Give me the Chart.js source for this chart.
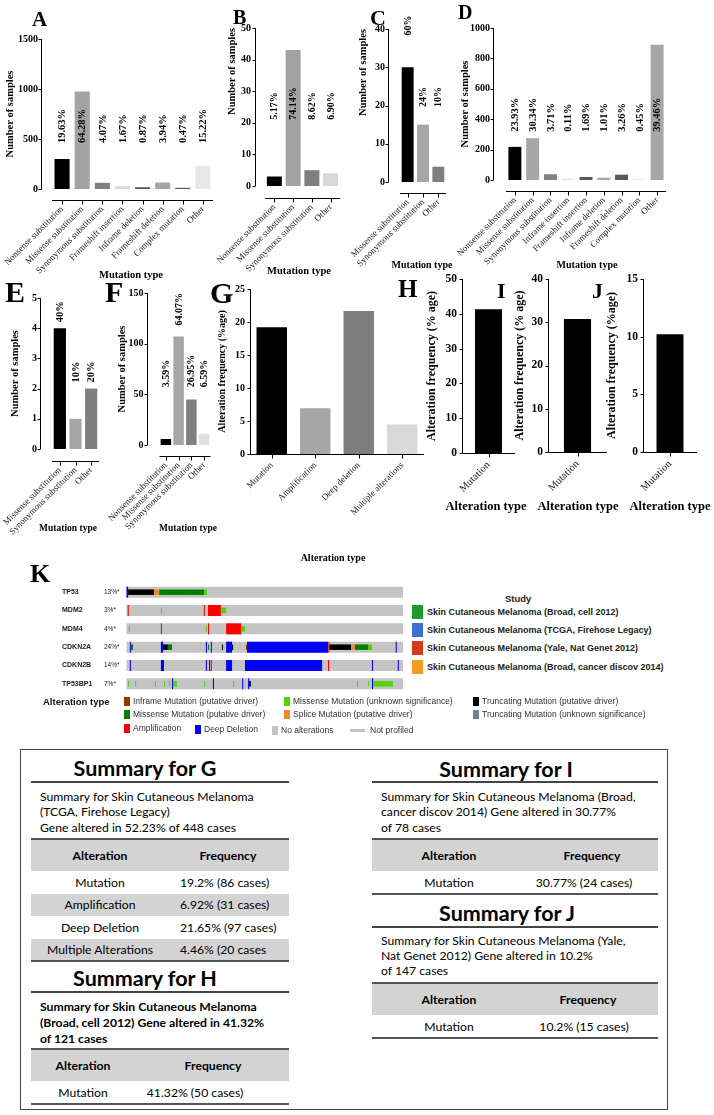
<!DOCTYPE html>
<html><head><meta charset="utf-8">
<script src="https://cdn.jsdelivr.net/npm/chart.js@4.4.1/dist/chart.umd.min.js"></script>
<style>
html,body{margin:0;padding:0;background:#fff;}
body{width:714px;height:1115px;position:relative;overflow:hidden;}
.t{position:absolute;white-space:nowrap;}
.r{position:absolute;}
</style></head><body>
<script>
// ---------------- DATA ----------------
const A_categories = ['Nonsense substitution','Missense substitution','Synonymous substitution','Frameshift insertion','Inframe deletion','Frameshift deletion','Complex mutation','Other'];
const A_values = [300, 975, 62, 28, 18, 65, 12, 232];
const A_percent = ['19.63%','64.28%','4.07%','1.67%','0.87%','3.94%','0.47%','15.22%'];
const A_ticks = [0, 500, 1000, 1500];

const B_categories = ['Nonsense substitution','Missense substitution','Synonymous substitution','Other'];
const B_values = [3, 43, 5, 4];
const B_percent = ['5.17%','74.14%','8.62%','6.90%'];
const B_ticks = [0, 10, 20, 30, 40, 50];

const C_categories = ['Missense substitution','Synonymous substitution','Other'];
const C_values = [30, 15, 4];
const C_percent = ['60%','24%','10%'];
const C_ticks = [0, 10, 20, 30, 40];

const D_categories = ['Nonsense substitution','Missense substitution','Synonymous substitution','Inframe insertion','Frameshift insertion','Inframe deletion','Frameshift deletion','Complex mutation','Other'];
const D_values = [218, 275, 38, 8, 20, 15, 35, 6, 890];
const D_percent = ['23.93%','30.34%','3.71%','0.11%','1.69%','1.01%','3.26%','0.45%','39.46%'];
const D_ticks = [0, 200, 400, 600, 800, 1000];

const E_categories = ['Missense substitution','Synonymous substitution','Other'];
const E_values = [4, 1, 2];
const E_percent = ['40%','10%','20%'];
const E_ticks = [0, 1, 2, 3, 4, 5];

const F_categories = ['Nonsense substitution','Missense substitution','Synonymous substitution','Other'];
const F_values = [6, 107, 45, 11];
const F_percent = ['3.59%','64.07%','26.95%','6.59%'];
const F_ticks = [0, 50, 100, 150];

const G_categories = ['Mutation','Amplification','Deep deletion','Multiple alterations'];
const G_values = [19.2, 6.92, 21.65, 4.46];
const G_ticks = [0, 5, 10, 15, 20, 25];

const H_categories = ['Mutation'];
const H_values = [41.32];
const H_ticks = [0, 10, 20, 30, 40, 50];

const I_categories = ['Mutation'];
const I_values = [30.77];
const I_ticks = [0, 10, 20, 30, 40];

const J_categories = ['Mutation'];
const J_values = [10.2];
const J_ticks = [0, 5, 10, 15];

// Oncoprint (K): sample index ranges [gene, start, end] out of K_total samples
const K_genes = ['TP53','MDM2','MDM4','CDKN2A','CDKN2B','TP53BP1'];
const K_genePct = ['13%*','3%*','4%*','24%*','14%*','7%*'];
const K_total = 794;
const K_amplification = [['MDM2',5,8],['MDM2',223,226],['MDM2',235,272],['MDM4',100,103],['MDM4',235,238],['MDM4',287,330],['CDKN2A',580,583],['CDKN2B',243,246],['CDKN2B',579,582]];
const K_deepDeletion = [['TP53',0,6],['CDKN2A',11,14],['CDKN2A',100,106],['CDKN2A',229,232],['CDKN2A',243,246],['CDKN2A',287,304],['CDKN2A',347,579],['CDKN2A',773,776],
  ['CDKN2B',11,14],['CDKN2B',100,109],['CDKN2B',229,232],['CDKN2B',238,241],['CDKN2B',287,304],['CDKN2B',341,562],['CDKN2B',705,708],['CDKN2B',779,782],
  ['TP53BP1',132,135],['TP53BP1',249,252],['TP53BP1',333,336],['TP53BP1',350,353],['TP53BP1',705,708]];
const K_truncDriver = [['TP53',6,80],['CDKN2A',106,120],['CDKN2A',275,278],['CDKN2A',304,307],['CDKN2A',583,645],['TP53BP1',353,358]];
const K_spliceDriver = [['TP53',80,95],['CDKN2A',645,656]];
const K_missenseDriver = [['TP53',95,224],['CDKN2A',14,20],['CDKN2A',120,132],['CDKN2A',235,238],['CDKN2A',656,694]];
const K_missenseUnknown = [['TP53',224,232],['MDM2',100,103],['MDM2',272,287],['MDM4',8,11],['MDM4',229,232],['MDM4',330,341],['CDKN2A',694,705],
  ['TP53BP1',6,9],['TP53BP1',26,29],['TP53BP1',83,86],['TP53BP1',109,112],['TP53BP1',123,126],['TP53BP1',135,146],['TP53BP1',224,227],['TP53BP1',307,310],['TP53BP1',662,665],['TP53BP1',694,697],['TP53BP1',708,765]];
const K_inframeDriver = [['CDKN2A',344,347]];

const K_studies = ['Skin Cutaneous Melanoma (Broad, cell 2012)','Skin Cutaneous Melanoma (TCGA, Firehose Legacy)','Skin Cutaneous Melanoma (Yale, Nat Genet 2012)','Skin Cutaneous Melanoma (Broad, cancer discov 2014)'];

const G_summaryRows = [['Mutation','19.2% (86 cases)'],['Amplification','6.92% (31 cases)'],['Deep Deletion','21.65% (97 cases)'],['Multiple Alterations','4.46% (20 cases']];
const H_summaryRows = [['Mutation','41.32% (50 cases)']];
const I_summaryRows = [['Mutation','30.77% (24 cases)']];
const J_summaryRows = [['Mutation','10.2% (15 cases)']];

// ---------------- HELPERS ----------------
const SERIF = "'Liberation Serif','Times New Roman',serif";
const SANS = "'Liberation Sans',Arial,sans-serif";
const CAL = "Lato,'Open Sans',sans-serif";

function T(text, x, cy, o) {
  o = o || {};
  const fs = o.fs || 10, lh = Math.round(fs * 1.4);
  const d = document.createElement('div');
  d.className = 't';
  d.textContent = text;
  d.style.left = x + 'px';
  d.style.top = (cy - lh / 2) + 'px';
  d.style.lineHeight = lh + 'px';
  d.style.fontSize = fs + 'px';
  d.style.fontFamily = o.ff || CAL;
  d.style.fontWeight = o.fw || 'normal';
  d.style.color = o.c || '#000';
  if (o.align === 'center') d.style.transform = 'translateX(-50%)';
  if (o.align === 'right') d.style.transform = 'translateX(-100%)';
  document.body.appendChild(d);
}
function R(x, y, w, h, c, border) {
  const d = document.createElement('div');
  d.className = 'r';
  d.style.left = x + 'px'; d.style.top = y + 'px';
  d.style.width = w + 'px'; d.style.height = h + 'px';
  if (c) d.style.background = c;
  if (border) { d.style.border = border; d.style.boxSizing = 'border-box'; }
  document.body.appendChild(d);
}

// Prism-style axes (offset axis lines), rotated percentage labels and the x-axis title
const prismPlugin = {
  id: 'prism',
  afterDatasetsDraw(chart, args, o) {
    const ctx = chart.ctx, ca = chart.chartArea, ys = chart.scales.y, xs = chart.scales.x;
    const yx = Math.round(ca.left - o.yGap) + 0.5;
    const y0 = ys.getPixelForValue(0), yTop = ys.getPixelForValue(ys.max);
    const xa = Math.round(y0 + o.xGap) + 0.5;
    ctx.save();
    ctx.strokeStyle = '#000'; ctx.lineWidth = 1;
    ctx.beginPath();
    ctx.moveTo(yx, yTop); ctx.lineTo(yx, o.xGap ? y0 : xa);
    ys.ticks.forEach(t => { const p = Math.round(ys.getPixelForValue(t.value)) + 0.5; ctx.moveTo(yx - o.tick, p); ctx.lineTo(yx, p); });
    ctx.moveTo(o.xGap ? ca.left : yx, xa); ctx.lineTo(ca.right, xa);
    xs.ticks.forEach((t, i) => { const p = Math.round(xs.getPixelForTick(i)) + 0.5; ctx.moveTo(p, xa); ctx.lineTo(p, xa + o.tick + 1); });
    ctx.stroke();
    if (o.labels) {
      const meta = chart.getDatasetMeta(0);
      ctx.font = o.font; ctx.fillStyle = '#000'; ctx.textAlign = 'left'; ctx.textBaseline = 'middle';
      meta.data.forEach((bar, i) => {
        const base = Array.isArray(o.base) ? o.base[i] : o.base;
        let yb = ys.getPixelForValue(base);
        if (o.gap != null) yb = Math.min(yb, bar.y - o.gap);
        ctx.save(); ctx.translate(bar.x + 0.5, yb); ctx.rotate(-Math.PI / 2); ctx.fillText(o.labels[i], 0, 0); ctx.restore();
      });
    }
    if (o.xTitle) {
      ctx.font = o.xTitle.font; ctx.fillStyle = '#000'; ctx.textAlign = 'center'; ctx.textBaseline = 'middle';
      ctx.fillText(o.xTitle.text, o.xTitle.x, o.xTitle.y);
    }
    ctx.restore();
  }
};

function makeBar(d, L) {
  const [al, ar, at, ab] = L.area;
  const big = !!L.big;
  const bl = Math.max(0, Math.round(al - 80));
  const bt = L.top, bh = L.bottom - L.top;
  const bw = Math.round(ar + 45 - bl);
  const yTitleFs = L.yTitleFs || (big ? 12 : 10.5);
  const xTitleFs = L.xTitleFs || (big ? 12.5 : 10.5);
  const cv = document.createElement('canvas');
  cv.width = bw; cv.height = bh;
  cv.style.cssText = `position:absolute;left:${bl}px;top:${bt}px;width:${bw}px;height:${bh}px;`;
  document.body.appendChild(cv);
  new Chart(cv, {
    type: 'bar',
    data: { labels: d.labels, datasets: [{ data: d.values, backgroundColor: d.colors, barPercentage: L.barPct, categoryPercentage: 1, borderWidth: 0 }] },
    options: {
      responsive: false, animation: false, devicePixelRatio: 1,
      events: [],
      layout: { autoPadding: false, padding: { left: 0, top: at - bt, right: bl + bw - ar, bottom: 0 } },
      plugins: {
        legend: { display: false }, tooltip: { enabled: false },
        prism: { yGap: L.yGap, xGap: L.xGap, tick: 3, labels: d.pct, base: L.pctBase, gap: L.pctGap, font: 'bold ' + (L.pctFs || 10) + 'px ' + SERIF,
                 xTitle: { text: d.xTitle, font: 'bold ' + xTitleFs + 'px ' + SERIF, x: L.xTitleAt[0] - bl, y: L.xTitleAt[1] - bt } }
      },
      scales: {
        x: {
          type: 'category', offset: true,
          grid: { display: false, drawTicks: false, tickLength: 0 }, border: { display: false },
          ticks: { autoSkip: false, minRotation: 45, maxRotation: 45, padding: L.xPad, color: '#222', font: { family: SERIF, size: L.xFs || (big ? 10.5 : 9) } },
          title: { display: false },
          afterFit: s => { s.height = bt + bh - ab; s.paddingLeft = 0; s.paddingRight = 0; }
        },
        y: {
          type: 'linear', min: 0, max: d.ticks[d.ticks.length - 1],
          grid: { display: false, drawTicks: false, tickLength: 0 }, border: { display: false },
          afterBuildTicks: s => { s.ticks = d.ticks.map(v => ({ value: v })); },
          ticks: { padding: L.yPad, color: '#000', font: { family: SERIF, size: big ? 11.5 : 10, weight: 'bold' }, callback: v => String(v) },
          title: { display: true, text: d.yTitle, color: '#000', padding: { top: L.yTitleX - bl - yTitleFs * 0.6, bottom: 0 }, align: L.yAlign || 'center', font: { family: SERIF, size: yTitleFs, weight: 'bold' } },
          afterFit: s => { s.width = al - bl; s.paddingTop = 0; s.paddingBottom = 0; }
        }
      }
    },
    plugins: [prismPlugin]
  });
}

// ---------------- CHARTS A–J ----------------
makeBar({ labels: A_categories, values: A_values, pct: A_percent, ticks: A_ticks, colors: ['#000','#a3a3a3','#7f7f7f','#d9d9d9','#595959','#a6a6a6','#595959','#e8e8e8'], yTitle: 'Number of samples', xTitle: 'Mutation type' },
  { top: 0, bottom: 281, area: [52, 213, 39, 189], yTitleX: 10, xTitleAt: [131, 275], yGap: 11, xGap: 11, yPad: 14, xPad: 15, barPct: 0.75, pctBase: 460, pctFs: 10.5 });
makeBar({ labels: B_categories, values: B_values, pct: B_percent, ticks: B_ticks, colors: ['#000','#a3a3a3','#7f7f7f','#d9d9d9'], yTitle: 'Number of samples', xTitle: 'Mutation type' },
  { top: 0, bottom: 278, area: [265, 340, 28, 186], yTitleX: 232, xTitleAt: [299, 271], yGap: 10, xGap: 12, yPad: 14, xPad: 16, barPct: 0.8, pctBase: 21, yAlign: 'end' });
makeBar({ labels: C_categories, values: C_values, pct: C_percent, ticks: C_ticks, colors: ['#000','#a6a6a6','#7f7f7f'], yTitle: 'Number of samples', xTitle: 'Mutation type' },
  { top: 0, bottom: 271, area: [400, 446, 29, 182], yTitleX: 363, xTitleAt: [422, 265], xTitleFs: 10, yGap: 12, xGap: 11, yPad: 15, xPad: 15, barPct: 0.78, pctBase: [38.3, 19.6, 19.6], yAlign: 'end' });
makeBar({ labels: D_categories, values: D_values, pct: D_percent, ticks: D_ticks, colors: ['#000','#a6a6a6','#7f7f7f','#e0e0e0','#595959','#a6a6a6','#595959','#e6e6e6','#a6a6a6'], yTitle: 'Number of samples', xTitle: 'Mutation type' },
  { top: 0, bottom: 271, area: [506, 666, 28, 180], yTitleX: 465, xTitleAt: [587, 265], xTitleFs: 10, yGap: 13, xGap: 11, yPad: 16, xPad: 15, barPct: 0.73, pctBase: 317, pctFs: 10.5 });
makeBar({ labels: E_categories, values: E_values, pct: E_percent, ticks: E_ticks, colors: ['#000','#a6a6a6','#7f7f7f'], yTitle: 'Number of samples', xTitle: 'Mutation type' },
  { top: 250, bottom: 535, area: [52, 99, 298, 449], yTitleX: 15, xTitleAt: [68, 529], xTitleFs: 9.5, yGap: 12, xGap: 12, yPad: 15, xPad: 16, barPct: 0.78, pctBase: 2.2, pctGap: 6, pctFs: 10.5 });
makeBar({ labels: F_categories, values: F_values, pct: F_percent, ticks: F_ticks, colors: ['#000','#a6a6a6','#7f7f7f','#e0e0e0'], yTitle: 'Number of samples', xTitle: 'Mutation type' },
  { top: 250, bottom: 535, area: [159.5, 210.5, 293, 445], yTitleX: 122, xTitleAt: [188, 529], xTitleFs: 9.5, yGap: 12.5, xGap: 11, yPad: 16, xPad: 15, barPct: 0.82, pctBase: 57, pctGap: 11 });
makeBar({ labels: G_categories, values: G_values, ticks: G_ticks, colors: ['#000','#a6a6a6','#7f7f7f','#d9d9d9'], yTitle: 'Alteration frequency (%age)', xTitle: 'Alteration type' },
  { top: 250, bottom: 564, area: [250, 424, 289, 454], yTitleX: 222, xTitleAt: [333, 558], xTitleFs: 10, yGap: 0, xGap: 0, yPad: 5, xPad: 6, barPct: 0.7, yTitleFs: 10 });
makeBar({ labels: H_categories, values: H_values, ticks: H_ticks, colors: ['#000'], yTitle: 'Alteration frequency (% age)', xTitle: 'Alteration type' },
  { top: 250, bottom: 515, area: [462, 515, 279, 453], yTitleX: 432, xTitleAt: [486, 507], yGap: 0, xGap: 0, yPad: 5, xPad: 6, barPct: 0.51, big: true });
makeBar({ labels: I_categories, values: I_values, ticks: I_ticks, colors: ['#000'], yTitle: 'Alteration frequency (% age)', xTitle: 'Alteration type' },
  { top: 250, bottom: 515, area: [548, 607, 279, 452], yTitleX: 520, xTitleAt: [578, 507], yGap: 0, xGap: 0, yPad: 5, xPad: 6, barPct: 0.46, big: true });
makeBar({ labels: J_categories, values: J_values, ticks: J_ticks, colors: ['#000'], yTitle: 'Alteration frequency (%age)', xTitle: 'Alteration type' },
  { top: 250, bottom: 515, area: [643, 697, 279, 452], yTitleX: 612, xTitleAt: [670, 507], yGap: 0, xGap: 0, yPad: 5, xPad: 6, barPct: 0.5, big: true });

// Panel letters
[['A',32,19,21],['B',233,16.5,20],['C',370,17.5,22],['D',458,11.5,20],['E',5,292,30],['F',105,292,30],['G',210,293,30],['H',398,288.5,25],['I',497,290,22],['J',592,290,22],['K',30,573.5,26]]
  .forEach(([t, x, y, fs]) => T(t, x, y, { fs: fs, fw: 'bold', ff: SERIF }));

// ---------------- ONCOPRINT K ----------------
(function () {
  const bl = 62, bt = 578, bw = 342, bh = 120, al = 126, ar = 403, at = 583, ab = 693;
  const cv = document.createElement('canvas');
  cv.width = bw; cv.height = bh;
  cv.style.cssText = `position:absolute;left:${bl}px;top:${bt}px;width:${bw}px;height:${bh}px;`;
  document.body.appendChild(cv);
  const seg = (list, color, bp, order) => ({ data: list.map(([g, a, b]) => ({ y: g, x: [a, b] })), backgroundColor: color, barPercentage: bp, categoryPercentage: 0.6, grouped: false, borderWidth: 0, order: order });
  new Chart(cv, {
    type: 'bar',
    data: { datasets: [
      seg(K_genes.map(g => [g, 0, K_total]), '#c4c4c4', 1, 9),
      seg(K_amplification, '#ff0000', 1, 5),
      seg(K_deepDeletion, '#0000ff', 1, 5),
      seg(K_truncDriver, '#000000', 0.5, 1),
      seg(K_spliceDriver, '#f08a2c', 0.5, 1),
      seg(K_missenseDriver, '#008000', 0.5, 1),
      seg(K_missenseUnknown, '#53d400', 0.5, 1),
      seg(K_inframeDriver, '#993404', 0.5, 1)
    ] },
    options: {
      indexAxis: 'y', responsive: false, animation: false, devicePixelRatio: 1, events: [],
      layout: { autoPadding: false, padding: { left: 0, top: at - bt, right: bl + bw - ar, bottom: bt + bh - ab } },
      plugins: { legend: { display: false }, tooltip: { enabled: false } },
      scales: {
        x: { type: 'linear', min: 0, max: K_total, display: true, position: 'bottom', z: 1,
             grid: { drawTicks: false, tickLength: 0, color: 'rgba(255,255,255,0.35)', lineWidth: 1 }, border: { display: false },
             ticks: { display: false },
             afterBuildTicks: s => { const a = []; for (let v = 0; v <= K_total; v += 8) a.push({ value: v }); s.ticks = a; },
             afterFit: s => { s.height = 0; s.paddingLeft = 0; s.paddingRight = 0; } },
        y: { type: 'category', labels: K_genes, offset: true, position: 'left', weight: 1,
             grid: { display: false, drawTicks: false, tickLength: 0 }, border: { display: false },
             ticks: { crossAlign: 'far', padding: 0, color: '#222', font: { family: SANS, size: 7, weight: 'bold' } },
             afterFit: s => { s.width = 42; s.paddingTop = 0; s.paddingBottom = 0; } },
        y2: { type: 'category', labels: K_genePct, offset: true, position: 'left', weight: 0,
             grid: { display: false, drawTicks: false, tickLength: 0 }, border: { display: false },
             ticks: { crossAlign: 'far', padding: 0, color: '#222', font: { family: SANS, size: 6.5 } },
             afterFit: s => { s.width = 22; s.paddingTop = 0; s.paddingBottom = 0; } }
      }
    }
  });
})();

// Study legend
T('Study', 505, 598, { fs: 9.5, fw: 'bold', ff: SANS, c: '#222' });
const studyColors = ['#1f9a2a', '#3d6fd6', '#d63a1c', '#f59a23'];
const studyY = [612, 630, 648, 667];
K_studies.forEach((s, i) => { R(412, studyY[i] - 7, 11, 14, studyColors[i]); T(s, 427, studyY[i], { fs: 9, fw: 'bold', ff: SANS, c: '#222' }); });

// Alteration legend
T('Alteration type', 43, 701, { fs: 9.5, fw: 'bold', ff: SANS, c: '#111' });
const altLegend = [
  ['#993404', 124, 701, 'Inframe Mutation (putative driver)'],
  ['#53d400', 284, 701, 'Missense Mutation (unknown significance)'],
  ['#000000', 473, 701, 'Truncating Mutation (putative driver)'],
  ['#008000', 124, 714, 'Missense Mutation (putative driver)'],
  ['#f08a2c', 284, 714, 'Splice Mutation (putative driver)'],
  ['#708090', 473, 714, 'Truncating Mutation (unknown significance)'],
  ['#ff0000', 124, 728, 'Amplification'],
  ['#0000ff', 195, 729, 'Deep Deletion'],
  ['#c4c4c4', 272, 730, 'No alterations']
];
altLegend.forEach(([c, x, y, t]) => { R(x, y - 4.5, 6, 9, c); T(t, x + 9, y, { fs: 8.5, ff: SANS, c: '#333' }); });
R(350, 729, 15, 3, '#c4c4c4');
T('Not profiled', 370, 730, { fs: 8.5, ff: SANS, c: '#333' });

// ---------------- SUMMARY BOX ----------------
R(20, 749, 648, 361, null, '1px solid #444');
const FS = 12.2;
function summary(o) {
  T(o.title, o.titleX, o.titleY, { fs: 21.5, fw: 'bold', align: 'center' });
  R(o.x, o.ruleY, o.w, 1.5, '#444');
  o.lines.forEach((l, i) => T(l, o.x + 9, o.lineY + i * o.lineStep, { fs: FS, fw: o.lineW || 'normal' }));
  R(o.x, o.tableY, o.w, 2, '#555');
  R(o.x, o.tableY + 2, o.w, 31, '#d3d3d3');
  T('Alteration', o.c1, o.tableY + 17, { fs: FS, fw: 'bold', align: 'center' });
  T('Frequency', o.c2h, o.tableY + 17, { fs: FS, fw: 'bold', align: 'center' });
  let y = o.tableY + 33;
  o.rows.forEach((r, i) => {
    if (i % 2 === 1) R(o.x, y, o.w, 22.5, '#d3d3d3');
    T(r[0], o.c1, y + 11, { fs: FS, align: 'center' });
    if (o.c2left != null) T(r[1], o.c2left, y + 11, { fs: FS });
    else T(r[1], o.c2, y + 11, { fs: FS, align: 'center' });
    y += 22.5;
  });
  R(o.x, y - 1, o.w, 2, '#555');
}
summary({ title: 'Summary for G', titleX: 145, titleY: 768, x: 31, w: 258, ruleY: 781, lines: ['Summary for Skin Cutaneous Melanoma', '(TCGA, Firehose Legacy)', 'Gene altered in 52.23% of 448 cases'], lineY: 796, lineStep: 15.5, tableY: 838, c1: 100, c2h: 228, c2left: 180, rows: G_summaryRows });
summary({ title: 'Summary for H', titleX: 145, titleY: 978, x: 31, w: 258, ruleY: 991, lines: ['Summary for Skin Cutaneous Melanoma', '(Broad, cell 2012) Gene altered in 41.32%', 'of 121 cases'], lineY: 1006, lineStep: 16, lineW: 'bold', tableY: 1048, c1: 83, c2h: 213, c2: 195, rows: H_summaryRows });
summary({ title: 'Summary for I', titleX: 506, titleY: 769, x: 372, w: 286, ruleY: 781, lines: ['Summary for Skin Cutaneous Melanoma (Broad,', 'cancer discov  2014) Gene altered in 30.77%', 'of 78 cases'], lineY: 796, lineStep: 15.5, tableY: 838, c1: 449, c2h: 592, c2: 584, rows: I_summaryRows });
summary({ title: 'Summary for J', titleX: 507, titleY: 913, x: 372, w: 286, ruleY: 926, lines: ['Summary for Skin Cutaneous Melanoma (Yale,', 'Nat Genet 2012) Gene altered in 10.2%', 'of 147 cases'], lineY: 940, lineStep: 15, tableY: 982, c1: 449, c2h: 588, c2: 584, rows: J_summaryRows });
</script>
</body></html>
